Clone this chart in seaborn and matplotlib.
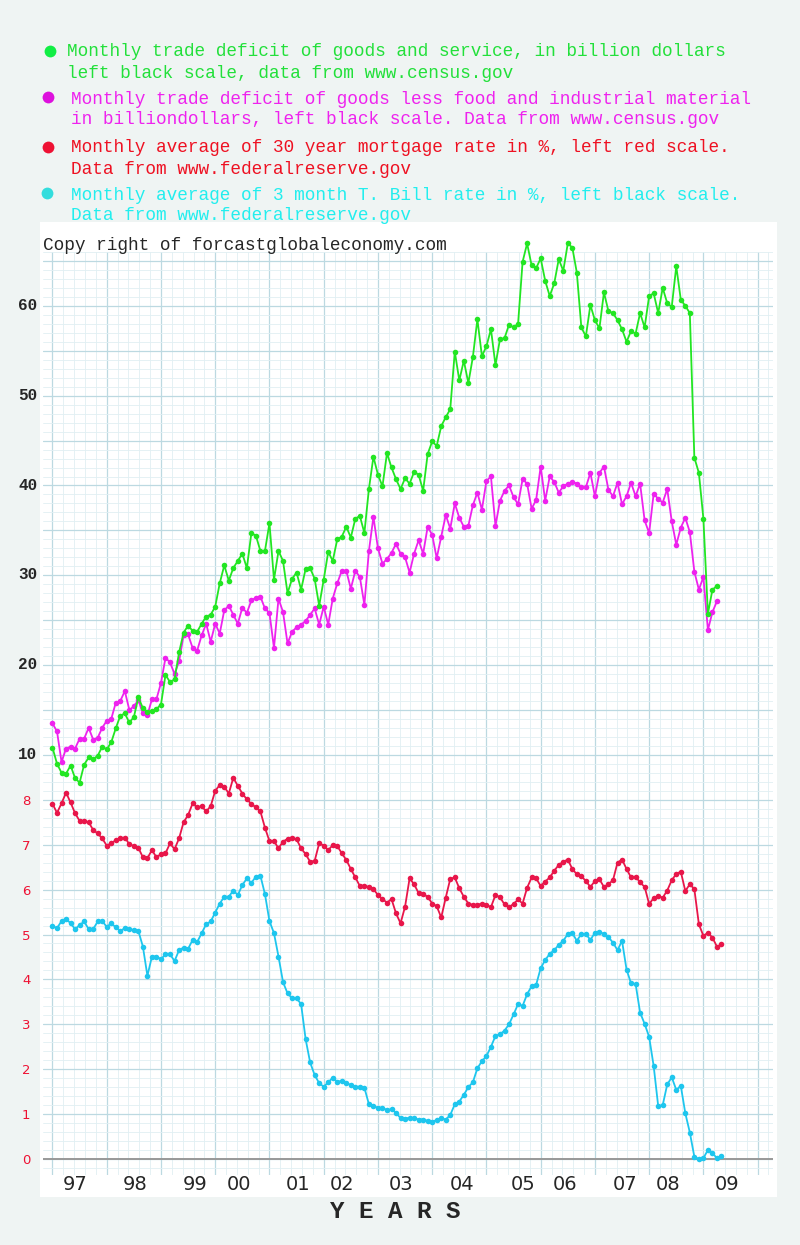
import numpy as np
import pandas as pd
import matplotlib
matplotlib.use('Agg')
import matplotlib.pyplot as plt
from matplotlib.patches import Rectangle
from matplotlib.lines import Line2D
from matplotlib.ticker import MultipleLocator
import seaborn as sns

# monthly values, first point = Jan 1997
trade_total = [10.6, 8.8, 7.8, 7.7, 8.6, 7.2, 6.7, 8.7, 9.5, 9.3, 9.7, 10.7,
               10.4, 11.2, 12.75, 14.15, 14.4, 13.4, 14.0, 16.2, 15.0, 14.6, 14.7, 14.9,
               15.4, 18.7, 17.9, 18.2, 21.2, 23.4, 24.2, 23.6, 23.5, 24.4, 25.2, 25.4,
               26.3, 28.9, 30.9, 29.2, 30.6, 31.4, 32.2, 30.6, 34.5, 34.2, 32.5, 32.5,
               35.6, 29.3, 32.5, 31.4, 27.8, 29.4, 30.1, 28.2, 30.5, 30.6, 29.4, 26.4,
               29.3, 32.4, 31.4, 33.8, 34.1, 35.2, 34.0, 36.1, 36.4, 34.5, 39.4, 43.0,
               41.0, 39.7, 43.4, 41.8, 40.5, 39.4, 40.6, 40.0, 41.3, 41.0, 39.2, 43.3,
               44.7, 44.2, 46.4, 47.4, 48.3, 54.7, 51.5, 53.7, 51.2, 54.1, 58.3, 54.2,
               55.3, 57.2, 53.2, 56.1, 56.2, 57.7, 57.4, 57.8, 64.7, 66.75, 64.3, 64.0,
               65.1, 62.6, 60.9, 62.3, 65.0, 63.7, 66.75, 66.3, 63.5, 57.4, 56.4, 59.9,
               58.2, 57.3, 61.3, 59.2, 59.0, 58.2, 57.2, 55.8, 57.0, 56.7, 59.0, 57.4,
               60.9, 61.2, 59.0, 61.8, 60.1, 59.7, 64.2, 60.5, 59.8, 59.0, 42.9, 41.2,
               36.1, 25.5, 28.2, 28.6]

trade_goods = [13.3, 12.4, 9.0, 10.5, 10.7, 10.5, 11.6, 11.6, 12.8, 11.5, 11.7, 12.8,
               13.6, 13.8, 15.6, 15.8, 16.9, 14.8, 15.2, 15.9, 14.4, 14.2, 16.0, 16.0,
               17.8, 20.6, 20.1, 18.8, 20.2, 23.1, 23.2, 21.7, 21.4, 23.1, 24.4, 22.4,
               24.4, 23.3, 25.9, 26.4, 25.4, 24.4, 26.2, 25.6, 27.0, 27.3, 27.4, 26.1,
               25.6, 21.7, 27.2, 25.7, 22.2, 23.5, 24.0, 24.3, 24.7, 25.4, 26.1, 24.3,
               26.3, 24.3, 27.2, 28.9, 30.3, 30.3, 28.3, 30.3, 29.6, 26.5, 32.5, 36.3,
               32.8, 31.1, 31.6, 32.3, 33.3, 32.2, 31.8, 30.1, 32.2, 33.7, 32.2, 35.2,
               34.3, 31.7, 34.1, 36.5, 35.0, 37.8, 36.2, 35.2, 35.3, 37.6, 39.0, 37.1,
               40.3, 40.8, 35.3, 38.1, 39.2, 39.8, 38.5, 37.7, 40.5, 40.0, 37.2, 38.2,
               41.9, 38.1, 40.8, 40.2, 39.0, 39.7, 40.0, 40.2, 40.0, 39.6, 39.6, 41.2,
               38.6, 41.2, 41.9, 39.3, 38.6, 40.1, 37.7, 38.6, 40.1, 38.6, 40.0, 35.9,
               34.5, 38.9, 38.3, 37.9, 39.4, 35.8, 33.2, 35.1, 36.2, 34.6, 30.2, 28.2,
               29.6, 23.7, 25.7, 26.9]

mortgage_30y = [7.91, 7.71, 7.92, 8.16, 7.94, 7.70, 7.53, 7.53, 7.50, 7.33, 7.25, 7.14,
                6.98, 7.03, 7.10, 7.14, 7.16, 7.01, 6.97, 6.93, 6.72, 6.70, 6.88, 6.72,
                6.79, 6.81, 7.03, 6.90, 7.14, 7.50, 7.66, 7.92, 7.83, 7.86, 7.74, 7.86,
                8.20, 8.33, 8.29, 8.14, 8.49, 8.31, 8.14, 8.01, 7.91, 7.83, 7.74, 7.38,
                7.08, 7.08, 6.92, 7.07, 7.13, 7.14, 7.12, 6.92, 6.79, 6.62, 6.64, 7.03,
                6.98, 6.88, 6.99, 6.97, 6.81, 6.66, 6.46, 6.27, 6.08, 6.08, 6.06, 6.01,
                5.88, 5.79, 5.71, 5.79, 5.47, 5.25, 5.62, 6.25, 6.12, 5.92, 5.90, 5.84,
                5.69, 5.63, 5.38, 5.82, 6.24, 6.27, 6.03, 5.84, 5.69, 5.66, 5.66, 5.69,
                5.66, 5.61, 5.88, 5.83, 5.67, 5.61, 5.68, 5.78, 5.69, 6.04, 6.27, 6.25,
                6.08, 6.18, 6.27, 6.42, 6.55, 6.62, 6.67, 6.46, 6.34, 6.30, 6.19, 6.06,
                6.19, 6.23, 6.06, 6.12, 6.21, 6.60, 6.67, 6.46, 6.27, 6.29, 6.16, 6.06,
                5.68, 5.81, 5.86, 5.82, 5.98, 6.21, 6.35, 6.40, 5.97, 6.12, 6.01, 5.23,
                4.97, 5.04, 4.93, 4.73, 4.78]

tbill_3m = [5.19, 5.14, 5.30, 5.35, 5.25, 5.12, 5.21, 5.29, 5.12, 5.12, 5.29, 5.30,
            5.17, 5.25, 5.16, 5.08, 5.14, 5.12, 5.10, 5.08, 4.73, 4.08, 4.51, 4.51,
            4.45, 4.56, 4.56, 4.41, 4.65, 4.71, 4.68, 4.88, 4.83, 5.03, 5.23, 5.29,
            5.49, 5.69, 5.84, 5.84, 5.98, 5.88, 6.10, 6.25, 6.15, 6.29, 6.31, 5.90,
            5.30, 5.03, 4.51, 3.94, 3.69, 3.58, 3.58, 3.45, 2.67, 2.15, 1.87, 1.69,
            1.61, 1.71, 1.81, 1.72, 1.74, 1.69, 1.65, 1.61, 1.61, 1.59, 1.22, 1.18,
            1.14, 1.14, 1.09, 1.11, 1.03, 0.91, 0.90, 0.92, 0.91, 0.88, 0.88, 0.85,
            0.83, 0.87, 0.91, 0.88, 0.98, 1.22, 1.28, 1.43, 1.60, 1.71, 2.02, 2.18,
            2.29, 2.50, 2.74, 2.78, 2.86, 3.00, 3.22, 3.45, 3.41, 3.67, 3.85, 3.88,
            4.25, 4.43, 4.57, 4.65, 4.77, 4.86, 5.01, 5.03, 4.86, 5.01, 5.01, 4.88,
            5.04, 5.06, 5.01, 4.94, 4.82, 4.65, 4.86, 4.22, 3.91, 3.90, 3.26, 3.01,
            2.72, 2.07, 1.18, 1.20, 1.66, 1.82, 1.54, 1.63, 1.02, 0.59, 0.05, 0.00,
            0.02, 0.20, 0.13, 0.02, 0.07]

year_labels = ['97', '98', '99', '00', '01', '02', '03', '04', '05', '06', '07', '08', '09']
trade_ticks = [10, 20, 30, 40, 50, 60]
rate_ticks = [0, 1, 2, 3, 4, 5, 6, 7, 8]

legend_lines = [
    ['Monthly trade deficit of goods and service, in billion dollars',
     'left black scale, data from www.census.gov'],
    ['Monthly trade deficit of goods less food and industrial material',
     'in billiondollars, left black scale. Data from www.census.gov'],
    ['Monthly average of 30 year mortgage rate in %, left red scale.',
     'Data from www.federalreserve.gov'],
    ['Monthly average of 3 month T. Bill rate in %, left black scale.',
     'Data from www.federalreserve.gov'],
]

START = 1997
W, H = 800, 1245

# hand placed year labels (fraction of year)
label_pos = [1997.42, 1998.53, 1999.63, 2000.44, 2001.53, 2002.33, 2003.43,
             2004.55, 2005.68, 2006.45, 2007.56, 2008.35, 2009.44]

c_green, c_magenta, c_red, c_cyan = '#22e622', '#ee22ee', '#e8164a', '#1ec6ee'
txt_colors = ['#22e03a', '#ee22ee', '#ee1122', '#22eeee']
dot_colors = ['#11ee44', '#dd11dd', '#ee1133', '#33dddd']


def monthly(values):
    return pd.DataFrame({'year': START + np.arange(len(values)) / 12, 'value': values})


def fx(px):
    return px / W


def fy(py):
    return 1 - py / H


sns.set_style('white')
plt.rcParams['font.family'] = ['DejaVu Sans']

fig = plt.figure(figsize=(8, 12.45), dpi=100, facecolor='#eff4f3')
paper = Rectangle((fx(40), fy(1197)), fx(737), 975 / H, transform=fig.transFigure,
                  facecolor='white', edgecolor='none', zorder=-1)
fig.patches.append(paper)

ax = fig.add_axes([fx(43), fy(1175), fx(730), 923 / H])
ax.set_facecolor('none')
ax2 = ax.twinx()

line_kw = dict(marker='o', markersize=4, markeredgewidth=0, linewidth=1.3, clip_on=False)
sns.lineplot(data=monthly(mortgage_30y), x='year', y='value', ax=ax, color=c_red, **line_kw)
sns.lineplot(data=monthly(tbill_3m), x='year', y='value', ax=ax, color=c_cyan, **line_kw)
sns.lineplot(data=monthly(trade_goods), x='year', y='value', ax=ax2, color=c_magenta, **line_kw)
sns.lineplot(data=monthly(trade_total), x='year', y='value', ax=ax2, color=c_green, **line_kw)

ax.axhline(0, color='#999999', linewidth=1.4, zorder=1.5)

ax.set_xlim(START - 2.1 / 12, START + 159.4 / 12)
ax.set_ylim(-0.356, 20.2)
ax2.set_ylim(-37.0, 65.8)

# graph paper
ax.xaxis.set_major_locator(MultipleLocator(1))
ax.xaxis.set_minor_locator(MultipleLocator(0.2))
ax.set_yticks(np.arange(0, 21), labels=[str(v) if v in rate_ticks else '' for v in range(21)])
ax.yaxis.set_minor_locator(MultipleLocator(0.2))
ax.grid(which='major', color='#bcd9e1', linewidth=0.9)
ax.grid(which='minor', color='#e1eff3', linewidth=0.6)
ax.set_axisbelow(True)
ax.tick_params(axis='x', which='both', length=0, labelbottom=False)
ax.tick_params(axis='y', which='both', length=0, labelcolor='#ee1133', labelsize=9.5, pad=9)

ax2.set_yticks(trade_ticks, labels=[str(v) for v in trade_ticks],
               fontfamily='Liberation Mono', fontweight='bold', fontsize=11.5)
ax2.yaxis.tick_left()
ax2.tick_params(axis='y', length=0, pad=4)

sec = ax.secondary_xaxis('bottom')
sec.set_xticks(label_pos, labels=year_labels)
sec.tick_params(length=0, labelsize=14, pad=0)
sec.spines['bottom'].set_visible(False)

for a in (ax, ax2):
    a.set_xlabel('')
    a.set_ylabel('')
    for s in a.spines.values():
        s.set_visible(False)

fig.text(fx(43), fy(245), 'Copy right of forcastglobaleconomy.com', fontfamily='Liberation Mono',
         fontsize=12.8, ha='left', va='center')
fig.text(fx(395), fy(1211), 'Y E A R S', fontfamily='Liberation Mono', fontweight='bold',
         fontsize=17.5, ha='center', va='center')

dot_xy = [(50, 51), (48, 97), (48, 147), (47, 193)]
text_y = [(52, 73), (99, 120), (148, 169), (195, 216)]
text_x = [67, 71, 71, 71]
for i, lines in enumerate(legend_lines):
    dx, dy = dot_xy[i]
    fig.add_artist(Line2D([fx(dx)], [fy(dy)], marker='o', markersize=8.5, markeredgewidth=0,
                          color=dot_colors[i], transform=fig.transFigure))
    for txt, ty in zip(lines, text_y[i]):
        fig.text(fx(text_x[i]), fy(ty), txt, color=txt_colors[i], fontfamily='Liberation Mono',
                 fontsize=12.8, ha='left', va='center')

fig.savefig('out.png', dpi=100, facecolor=fig.get_facecolor())
